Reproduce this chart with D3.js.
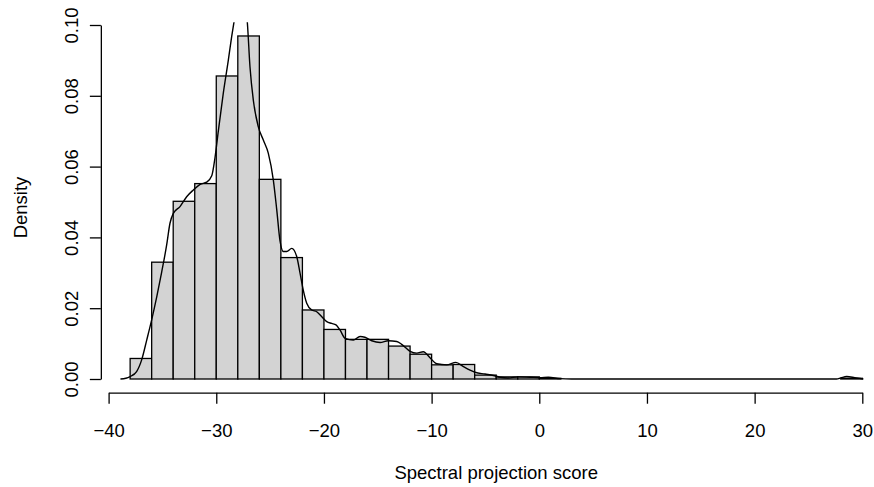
<!DOCTYPE html>
<html>
<head>
<meta charset="utf-8">
<script src="https://cdn.jsdelivr.net/npm/d3@7"></script>
<style>
  html, body { margin: 0; padding: 0; background: #ffffff; }
  svg { display: block; }
  text { font-family: "Liberation Sans", Arial, Helvetica, sans-serif; fill: #000; }
</style>
</head>
<body>
<svg id="chart" width="874" height="487"></svg>
<script>
// Histogram: left break of each 2-unit bin and its density
const binStart = [-38, -36, -34, -32, -30, -28, -26, -24, -22, -20, -18, -16, -14, -12, -10, -8, -6, -4, -2,
                  0, 2, 4, 6, 8, 10, 12, 14, 16, 18, 20, 22, 24, 26, 28];
const binDensity = [0.0058, 0.0330, 0.0502, 0.0552, 0.0856, 0.0969, 0.0564, 0.0343, 0.0195, 0.0140, 0.0112,
                    0.0112, 0.0093, 0.0070, 0.0040, 0.0041, 0.0011, 0.0006, 0.0006,
                    0.0002, 0, 0, 0, 0, 0, 0, 0, 0, 0, 0, 0, 0, 0, 0.0002];
const binWidth = 2;

// Kernel density estimate, sampled
const densX = [-38.9, -38.4, -38.0, -37.4, -36.93, -36.46, -36.0, -35.53, -35.07, -34.6, -34.3, -33.99,
               -33.37, -32.75, -32.13, -31.5, -30.89, -30.42, -30.12, -29.81, -29.35, -28.88, -28.57,
               -28.35, -28.0, -27.6, -27.3, -27.12, -26.87, -26.56, -26.1, -25.63, -25.17, -24.7, -24.39,
               -24.08, -23.77, -23.46, -22.99, -22.53, -22.22, -21.92, -21.6, -21.14, -20.67, -20.2,
               -19.74, -19.28, -18.88, -18.5, -18.04, -17.27, -16.65, -16.2, -15.56, -14.79, -14.02,
               -13.24, -12.78, -12.0, -11.38, -10.77, -10.15, -9.53, -8.6, -7.75, -7.05, -6.43, -5.97,
               -5.04, -4.27, -3.65, -2.9, -1.95, -0.86, 0.07, 0.84, 1.93, 3.0, 27.6, 28.0, 28.55, 29.3, 30.1];
const densY = [0.0000, 0.0002, 0.0007, 0.0021, 0.0054, 0.0110, 0.0167, 0.0232, 0.0302, 0.0380, 0.0440, 0.0468,
               0.0487, 0.0515, 0.0534, 0.0550, 0.0556, 0.0574, 0.0625, 0.0700, 0.0807, 0.0901, 0.0967,
               0.1009, 0.1080, 0.1110, 0.1060, 0.1009, 0.0882, 0.0788, 0.0713, 0.0675, 0.0638, 0.0562, 0.0480,
               0.0390, 0.0360, 0.0360, 0.0369, 0.0346, 0.0299, 0.0251, 0.0214, 0.0195, 0.0190, 0.0176,
               0.0162, 0.0157, 0.0153, 0.0138, 0.0115, 0.0110, 0.0120, 0.0118, 0.0108, 0.0103, 0.0108,
               0.0106, 0.0098, 0.0078, 0.0073, 0.0077, 0.0060, 0.0043, 0.0040, 0.0047, 0.0035, 0.0025, 0.0019,
               0.0014, 0.0010, 0.0005, 0.0003, 0.0006, 0.0005, 0.0004, 0.0005, 0.0001, 0.0000, 0.0000, 0.0003,
               0.0007, 0.0004, 0.0000];

const xTicks = [-40, -30, -20, -10, 0, 10, 20, 30];
const yTicks = [0.00, 0.02, 0.04, 0.06, 0.08, 0.10];
const xTitle = "Spectral projection score";
const yTitle = "Density";

const svg = d3.select("#chart");

const x = d3.scaleLinear().domain([-40, 30]).range([108.6, 862.3]);
const y = d3.scaleLinear().domain([0, 0.1]).range([379, 25]);

// plot region (4% padding around the data range, like base graphics)
const yMax = d3.max(binDensity);
const plotTop = y(yMax * 1.04);
const plotBottom = y(-yMax * 0.04);
const plotLeft = x(-38 - 68 * 0.04);
const plotRight = x(30 + 68 * 0.04);

svg.append("clipPath").attr("id", "plotClip")
  .append("rect")
  .attr("x", plotLeft).attr("y", plotTop)
  .attr("width", plotRight - plotLeft).attr("height", plotBottom - plotTop);

const plot = svg.append("g").attr("clip-path", "url(#plotClip)");

// bars
plot.selectAll("rect.bar")
  .data(binStart.map((s, i) => ({ s, d: binDensity[i] })))
  .join("rect")
  .attr("class", "bar")
  .attr("x", d => x(d.s))
  .attr("width", d => x(d.s + binWidth) - x(d.s))
  .attr("y", d => y(d.d))
  .attr("height", d => y(0) - y(d.d))
  .attr("fill", "#d3d3d3")
  .attr("stroke", "#000")
  .attr("stroke-width", 1.3);

// density curve
const line = d3.line()
  .x(d => x(d[0]))
  .y(d => y(d[1]))
  .curve(d3.curveMonotoneX);

plot.append("path")
  .datum(densX.map((v, i) => [v, densY[i]]))
  .attr("d", line)
  .attr("fill", "none")
  .attr("stroke", "#000")
  .attr("stroke-width", 1.4);

const fontSize = 18.5;

// x axis
const gx = svg.append("g")
  .attr("transform", `translate(0,${plotBottom})`)
  .call(d3.axisBottom(x).tickValues(xTicks).tickSize(11).tickSizeOuter(0).tickFormat(d3.format("d")));
gx.select(".domain").attr("stroke", "#000").attr("stroke-width", 1.3);
gx.selectAll(".tick line").attr("stroke", "#000").attr("stroke-width", 1.3);
gx.selectAll(".tick text")
  .attr("y", 437 - plotBottom).attr("dy", 0)
  .attr("font-size", fontSize).attr("font-family", null);

// y axis
const gy = svg.append("g")
  .attr("transform", `translate(${plotLeft},0)`)
  .call(d3.axisLeft(y).tickValues(yTicks).tickSize(11).tickSizeOuter(0).tickFormat(d3.format(".2f")));
gy.select(".domain").attr("stroke", "#000").attr("stroke-width", 1.3);
gy.selectAll(".tick line").attr("stroke", "#000").attr("stroke-width", 1.3);
gy.selectAll(".tick text")
  .attr("transform", "rotate(-90)")
  .attr("x", 0).attr("dy", 0)
  .attr("y", -(plotLeft - 78))
  .attr("text-anchor", "middle")
  .attr("font-size", fontSize).attr("font-family", null);

// titles
svg.append("text")
  .attr("x", (plotLeft + plotRight) / 2)
  .attr("y", 479)
  .attr("text-anchor", "middle")
  .attr("font-size", fontSize)
  .text(xTitle);

svg.append("text")
  .attr("transform", `translate(27,${(plotTop + plotBottom) / 2}) rotate(-90)`)
  .attr("text-anchor", "middle")
  .attr("font-size", fontSize)
  .text(yTitle);
</script>
</body>
</html>
